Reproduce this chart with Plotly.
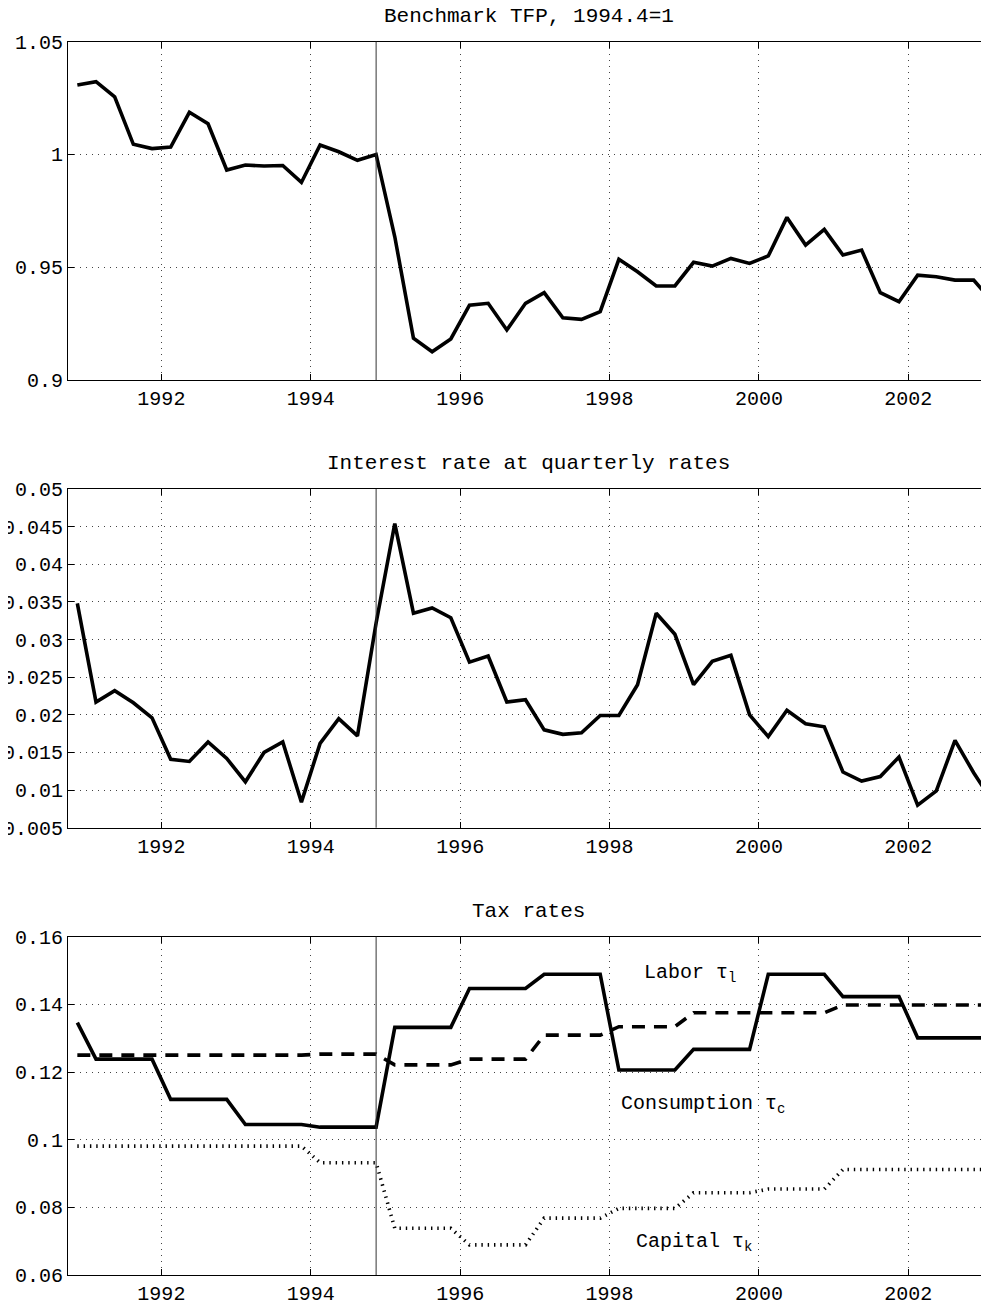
import plotly.graph_objects as go
from plotly.subplots import make_subplots

# ---------------- data ----------------
start_year = 1990.875          # 1990Q4, mid-quarter convention
n_quarters = 50
quarters = [start_year + 0.25 * i for i in range(n_quarters)]
break_date = 1994.875          # 1994Q4

tfp = [1.0308, 1.0323, 1.0256, 1.0045, 1.0026, 1.0033, 1.0187, 1.0136, 0.9931, 0.9953,
       0.9949, 0.9951, 0.9876, 1.0042, 1.0012, 0.9974, 1.0000, 0.9635, 0.9185, 0.9125,
       0.9182, 0.9332, 0.9340, 0.9222, 0.9340, 0.9387, 0.9276, 0.9269, 0.9303, 0.9535,
       0.9480, 0.9417, 0.9417, 0.9522, 0.9505, 0.9539, 0.9517, 0.9550, 0.9721, 0.9598,
       0.9668, 0.9554, 0.9576, 0.9387, 0.9347, 0.9465, 0.9458, 0.9443, 0.9443, 0.9349]

interest = [0.0348, 0.0217, 0.0232, 0.0216, 0.0196, 0.0141, 0.0138, 0.0164, 0.0142, 0.0111,
            0.0150, 0.0164, 0.0084, 0.0162, 0.0195, 0.0172, 0.0322, 0.0454, 0.0335, 0.0342,
            0.0329, 0.0270, 0.0278, 0.0217, 0.0220, 0.0180, 0.0174, 0.0176, 0.0199, 0.0199,
            0.0240, 0.0335, 0.0307, 0.0240, 0.0271, 0.0279, 0.0200, 0.0171, 0.0206, 0.0188,
            0.0184, 0.0124, 0.0112, 0.0118, 0.0144, 0.0080, 0.0099, 0.0166, 0.0123, 0.0085]

tax_labor = [0.1346, 0.1238, 0.1238, 0.1238, 0.1238, 0.1119, 0.1119, 0.1119, 0.1119, 0.1045,
             0.1045, 0.1045, 0.1045, 0.1037, 0.1037, 0.1037, 0.1037, 0.1332, 0.1332, 0.1332,
             0.1332, 0.1447, 0.1447, 0.1447, 0.1447, 0.1489, 0.1489, 0.1489, 0.1489, 0.1206,
             0.1206, 0.1206, 0.1206, 0.1267, 0.1267, 0.1267, 0.1267, 0.1489, 0.1489, 0.1489,
             0.1489, 0.1423, 0.1423, 0.1423, 0.1423, 0.1301, 0.1301, 0.1301, 0.1301, 0.1301]

tax_consumption = [0.1250, 0.1250, 0.1250, 0.1250, 0.1250, 0.1250, 0.1250, 0.1250, 0.1250, 0.1250,
                   0.1250, 0.1250, 0.1250, 0.1253, 0.1253, 0.1253, 0.1253, 0.1221, 0.1221, 0.1221,
                   0.1221, 0.1238, 0.1238, 0.1238, 0.1238, 0.1309, 0.1309, 0.1309, 0.1309, 0.1334,
                   0.1334, 0.1334, 0.1334, 0.1375, 0.1375, 0.1375, 0.1375, 0.1375, 0.1375, 0.1375,
                   0.1375, 0.1398, 0.1398, 0.1398, 0.1398, 0.1398, 0.1398, 0.1398, 0.1398, 0.1398]

tax_capital = [0.0981, 0.0981, 0.0981, 0.0981, 0.0981, 0.0981, 0.0981, 0.0981, 0.0981, 0.0981,
               0.0981, 0.0981, 0.0981, 0.0932, 0.0932, 0.0932, 0.0932, 0.0738, 0.0738, 0.0738,
               0.0738, 0.0689, 0.0689, 0.0689, 0.0689, 0.0768, 0.0768, 0.0768, 0.0768, 0.0797,
               0.0797, 0.0797, 0.0797, 0.0843, 0.0843, 0.0843, 0.0843, 0.0854, 0.0854, 0.0854,
               0.0854, 0.0912, 0.0912, 0.0912, 0.0912, 0.0912, 0.0912, 0.0912, 0.0912, 0.0912]

titles = ["Benchmark TFP, 1994.4=1", "Interest rate at quarterly rates", "Tax rates"]

x_tickvals = [1992, 1994, 1996, 1998, 2000, 2002]
x_ticktext = ["1992", "1994", "1996", "1998", "2000", "2002"]

y1_tickvals = [0.9, 0.95, 1.0, 1.05]
y1_ticktext = ["0.9", "0.95", "1", "1.05"]
y2_tickvals = [0.005, 0.01, 0.015, 0.02, 0.025, 0.03, 0.035, 0.04, 0.045, 0.05]
y2_ticktext = ["0.005", "0.01", "0.015", "0.02", "0.025", "0.03", "0.035", "0.04", "0.045", "0.05"]
y3_tickvals = [0.06, 0.08, 0.1, 0.12, 0.14, 0.16]
y3_ticktext = ["0.06", "0.08", "0.1", "0.12", "0.14", "0.16"]

series_labels = [
    ("Labor τ<sub>l</sub>", 1998.43, 0.1492),
    ("Consumption τ<sub>c</sub>", 1998.13, 0.1103),
    ("Capital τ<sub>k</sub>", 1998.33, 0.0695),
]

# ---------------- figure ----------------
FONT = "Liberation Mono, Courier New, monospace"
OFF = 8                      # page body margin of the browser
W, H = 989 - OFF, 1304 - OFF
ML = 68.3 - OFF
PX_PER_YEAR = 74.67

fig = make_subplots(rows=3, cols=1)

line_w = 3.6
fig.add_trace(go.Scatter(x=quarters, y=tfp, mode="lines",
                         line=dict(color="black", width=line_w)), row=1, col=1)
fig.add_trace(go.Scatter(x=quarters, y=interest, mode="lines",
                         line=dict(color="black", width=line_w)), row=2, col=1)
fig.add_trace(go.Scatter(x=quarters, y=tax_labor, mode="lines",
                         line=dict(color="black", width=line_w)), row=3, col=1)
fig.add_trace(go.Scatter(x=quarters, y=tax_consumption, mode="lines",
                         line=dict(color="black", width=line_w, dash="13px,9px")), row=3, col=1)
fig.add_trace(go.Scatter(x=quarters, y=tax_capital, mode="lines",
                         line=dict(color="black", width=line_w, dash="1.4px,4.9px")), row=3, col=1)

# pixel positions (from top of reference image) of each axes box
boxes = [(41.7, 380.0), (489.0, 827.7), (936.7, 1275.0)]
title_y = [16.7, 463.0, 911.7]
yinfo = [((0.9, 1.05), y1_tickvals, y1_ticktext),
         ((0.005, 0.05), y2_tickvals, y2_ticktext),
         ((0.06, 0.16), y3_tickvals, y3_ticktext)]

x_range = [1990.75, 1990.75 + (W - ML) / PX_PER_YEAR]

for k in range(3):
    top, bot = boxes[k]
    dom = [1 - (bot - OFF) / H, 1 - (top - OFF) / H]
    axs = "" if k == 0 else str(k + 1)
    fig.layout["xaxis" + axs].update(
        domain=[0, 1], range=x_range, tickvals=x_tickvals, ticktext=x_ticktext,
        showgrid=True, gridcolor="#444", griddash="1px,5px", gridwidth=1,
        showline=True, linecolor="black", linewidth=1, mirror="ticks",
        ticks="inside", ticklen=6, tickcolor="black", zeroline=False,
        tickfont=dict(family=FONT, size=20, color="black"), automargin=False,
    )
    rng, tv, tt = yinfo[k]
    fig.layout["yaxis" + axs].update(
        domain=dom, range=list(rng), tickvals=tv, ticktext=tt,
        showgrid=True, gridcolor="#444", griddash="1px,5px", gridwidth=1,
        showline=True, linecolor="black", linewidth=1, mirror=False,
        ticks="inside", ticklen=6, tickcolor="black", zeroline=False,
        tickfont=dict(family=FONT, size=20, color="black"), automargin=False,
    )
    fig.add_shape(type="line", xref="x" + axs, yref="y" + axs + " domain",
                  x0=break_date, x1=break_date, y0=0, y1=1,
                  line=dict(color="#333", width=1))
    fig.add_annotation(text=titles[k], xref="paper", yref="paper",
                       x=(529 - 68.3) / (989 - 68.3), y=1 - (title_y[k] - OFF) / H,
                       xanchor="center", yanchor="middle", showarrow=False,
                       font=dict(family=FONT, size=21, color="black"))

for txt, xv, yv in series_labels:
    fig.add_annotation(text=txt, xref="x3", yref="y3", x=xv, y=yv,
                       xanchor="left", yanchor="middle", showarrow=False,
                       font=dict(family=FONT, size=20, color="black"))

fig.update_layout(
    width=W, height=H, showlegend=False,
    margin=dict(l=ML, r=0, t=0, b=0, pad=0),
    paper_bgcolor="white", plot_bgcolor="white",
    template="none",
)

fig.write_html("out.html")
